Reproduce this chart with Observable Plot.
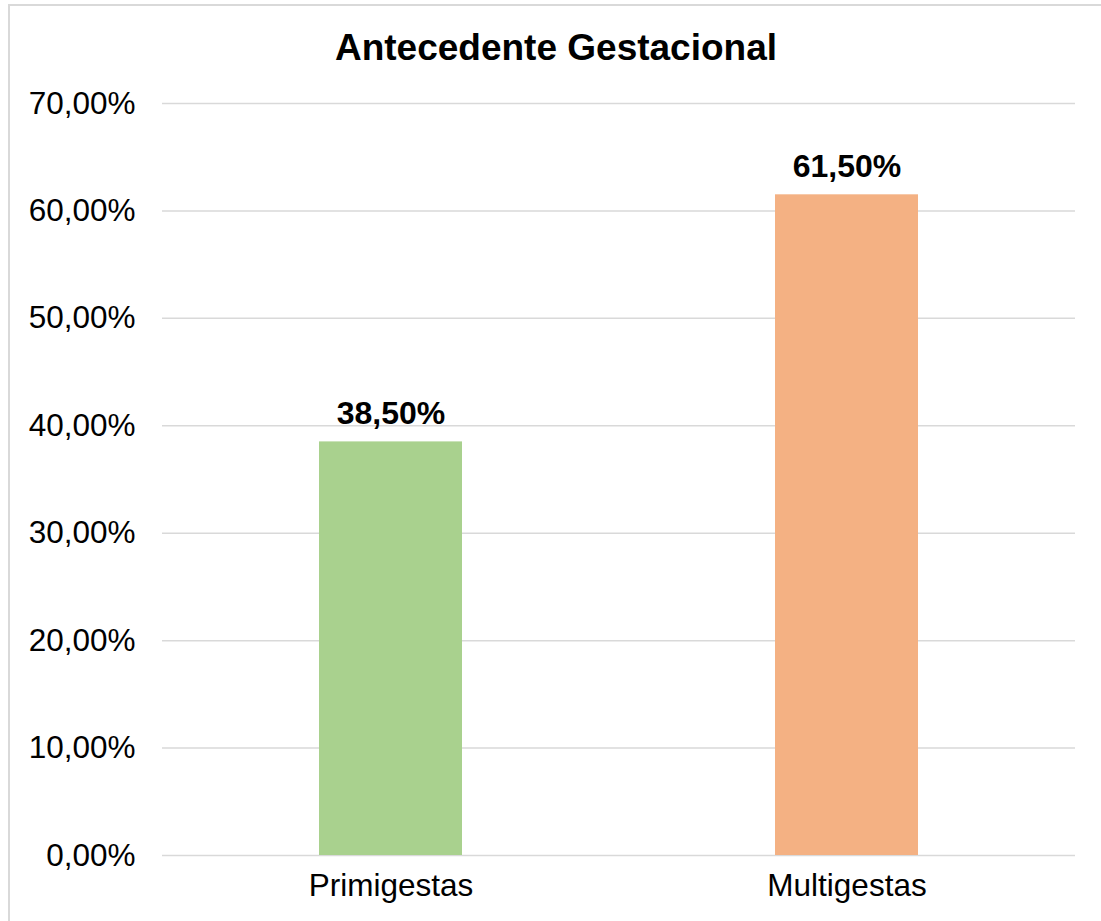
<!DOCTYPE html>
<html>
<head>
<meta charset="utf-8">
<script src="https://cdn.jsdelivr.net/npm/d3@7"></script>
<script src="https://cdn.jsdelivr.net/npm/@observablehq/plot@0.6"></script>
<style>
  html, body { margin: 0; padding: 0; background: #fff; }
  body { width: 1101px; height: 921px; position: relative; overflow: hidden; font-family: "Liberation Sans", Arial, sans-serif; }
  #frame { position: absolute; left: 8px; top: 4px; width: 1100px; height: 930px; border: 2px solid #d9d9d9; box-sizing: border-box; }
  #title { position: absolute; left: 0; width: 1112px; top: 26px; text-align: center; font-weight: bold; font-size: 37px; color: #000; line-height: 44px; }
  #chart { position: absolute; left: 0; top: 0; }
</style>
</head>
<body>
<div id="frame"></div>
<div id="title">Antecedente Gestacional</div>
<div id="chart"></div>
<script>
const categories = ["Primigestas", "Multigestas"];
const values = [38.5, 61.5];
const colors = ["#a9d18e", "#f4b183"];
const yTicks = [0, 10, 20, 30, 40, 50, 60, 70];

const data = categories.map((c, i) => ({category: c, value: values[i], color: colors[i]}));
const fmt = v => v.toFixed(2).replace(".", ",") + "%";

const plot = Plot.plot({
  width: 1101,
  height: 921,
  marginTop: 103,
  marginBottom: 66,
  marginLeft: 162,
  marginRight: 26,
  style: {fontFamily: "'Liberation Sans', Arial, sans-serif", fontSize: "31px", color: "#000", background: "transparent"},
  x: {domain: categories, paddingInner: 0.687, paddingOuter: 0.3435, label: null},
  y: {domain: [0, 70], label: null},
  marks: [
    Plot.ruleY(yTicks, {stroke: "#d9d9d9", strokeWidth: 1.5}),
    Plot.barY(data, {x: "category", y: "value", fill: "color"}),
    Plot.text(data, {x: "category", y: "value", text: d => fmt(d.value), fontWeight: "bold", fontSize: 32, lineAnchor: "bottom", dy: -18, fill: "#000"}),
    Plot.axisY(yTicks, {tickSize: 0, tickPadding: 27, tickFormat: fmt, fontSize: 31.5, label: null}),
    Plot.axisX({tickSize: 0, tickPadding: 18, fontSize: 31.5, label: null})
  ]
});
document.getElementById("chart").appendChild(plot);
</script>
</body>
</html>
